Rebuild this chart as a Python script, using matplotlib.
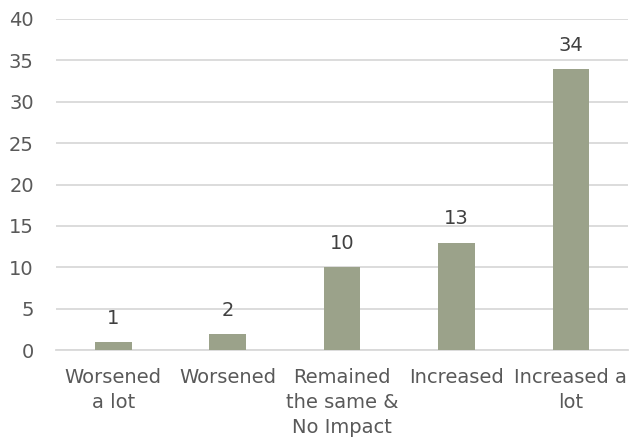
import matplotlib
matplotlib.use("Agg")
import matplotlib.pyplot as plt

# impact categories and response counts
categories = ["Worsened\na lot", "Worsened", "Remained\nthe same &\nNo Impact",
              "Increased", "Increased a\nlot"]
counts = [1, 2, 10, 13, 34]
yticks = [0, 5, 10, 15, 20, 25, 30, 35, 40]

bar_color = "#9BA28A"
text_color = "#595959"
grid_color = "#D9D9D9"

plt.rcParams['font.family'] = ['DejaVu Sans']

fig = plt.figure(figsize=(6.3, 4.41), dpi=100)
ax = fig.add_axes([0.089, 0.206, 0.908, 0.751])

x = list(range(len(categories)))
bars = ax.bar(x, counts, width=0.32, color=bar_color, zorder=3)

for xi, v in zip(x, counts):
    ax.text(xi, v + 1.7, str(v), ha="center", va="bottom",
            fontsize=14, color="#404040")

ax.set_ylim(0, 40)
ax.set_xlim(-0.5, len(categories) - 0.5)
ax.set_yticks(yticks)
ax.set_yticklabels([str(t) for t in yticks], fontsize=14, color=text_color)
ax.set_xticks(x)
ax.set_xticklabels(categories, fontsize=14, color=text_color, linespacing=1.4)
ax.tick_params(axis="both", length=0)
ax.tick_params(axis="y", pad=16)
ax.tick_params(axis="x", pad=13)

ax.grid(axis="y", color=grid_color, linewidth=1.3, zorder=0)
for side in ["top", "right", "left"]:
    ax.spines[side].set_visible(False)
ax.spines["bottom"].set_color(grid_color)
ax.spines["bottom"].set_linewidth(1.3)

fig.savefig("out.png", dpi=100)
